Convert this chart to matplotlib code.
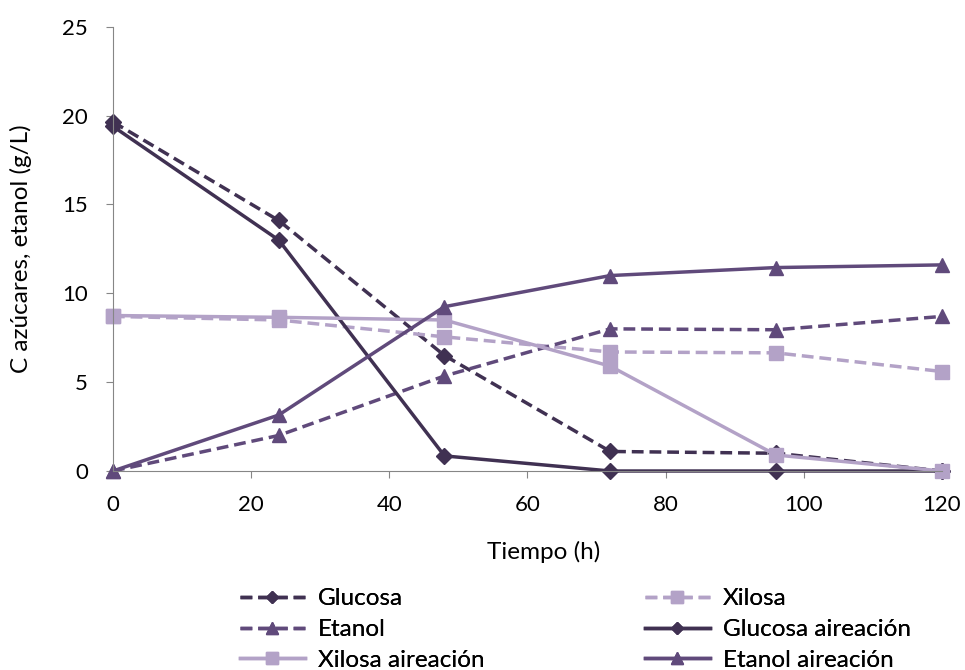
import numpy as np
import matplotlib.pyplot as plt

plt.rcParams['font.family'] = ['Lato', 'DejaVu Sans']

# --- datos ---
tiempo = [0, 24, 48, 72, 96, 120]
glucosa = [19.65, 14.1, 6.5, 1.1, 1.0, 0.0]
xilosa = [8.7, 8.5, 7.55, 6.7, 6.65, 5.6]
etanol = [0.0, 2.0, 5.35, 8.0, 7.95, 8.7]
glucosa_aire = [19.4, 13.0, 0.85, 0.0, 0.0, 0.0]
xilosa_aire = [8.75, 8.65, 8.5, 5.9, 0.9, 0.0]
etanol_aire = [0.0, 3.15, 9.25, 11.0, 11.45, 11.6]

C_OSCURO = '#403152'
C_MEDIO = '#604A7B'
C_CLARO = '#B3A2C7'

fig = plt.figure(figsize=(9.65, 6.70), dpi=100)
ax = fig.add_axes([0.117, 0.297, 0.859, 0.663])

lw = 2.5
dash = (0, (3.4, 1.7))
series = [
    ('Glucosa', glucosa, C_OSCURO, 'D', dash, 8),
    ('Xilosa', xilosa, C_CLARO, 's', dash, 10),
    ('Etanol', etanol, C_MEDIO, '^', dash, 10),
    ('Glucosa aireación', glucosa_aire, C_OSCURO, 'D', '-', 8),
    ('Xilosa aireación', xilosa_aire, C_CLARO, 's', '-', 10),
    ('Etanol aireación', etanol_aire, C_MEDIO, '^', '-', 10),
]
h = {}
for nombre, y, c, m, ls, ms in series:
    h[nombre], = ax.plot(tiempo, y, color=c, marker=m, markersize=ms, linestyle=ls,
                         linewidth=lw, label=nombre, clip_on=False)

ax.set_xlim(0, 120)
ax.set_ylim(0, 25)
ax.set_xticks(np.arange(0, 121, 20))
ax.set_yticks(np.arange(0, 26, 5))
for s in ['top', 'right']:
    ax.spines[s].set_visible(False)
for s in ['left', 'bottom']:
    ax.spines[s].set_color('#868686')
ax.tick_params(axis='both', colors='#868686', labelcolor='black', labelsize=16, length=5)
ax.tick_params(axis='x', pad=12)
ax.tick_params(axis='y', pad=13)
ax.set_xlabel('Tiempo (h)', fontsize=17.5)
ax.set_ylabel('C azúcares, etanol (g/L)', fontsize=17.5)
ax.xaxis.set_label_coords(0.52, -0.158)
ax.yaxis.set_label_coords(-0.097, 0.5)

# leyenda en dos columnas (orden por filas como en el original)
col1 = ['Glucosa', 'Etanol', 'Xilosa aireación']
col2 = ['Xilosa', 'Glucosa aireación', 'Etanol aireación']
for nombres, x0 in [(col1, 240 / 965), (col2, 645 / 965)]:
    leg = fig.legend([h[k] for k in nombres], nombres, loc='upper left',
                     bbox_to_anchor=(x0, 0.122), frameon=False, fontsize=17.5,
                     handlelength=2.67, handletextpad=0.53, labelspacing=0.4,
                     borderpad=0, borderaxespad=0, markerscale=0.8)
    fig.add_artist(leg)

fig.savefig('out.png', dpi=100)
